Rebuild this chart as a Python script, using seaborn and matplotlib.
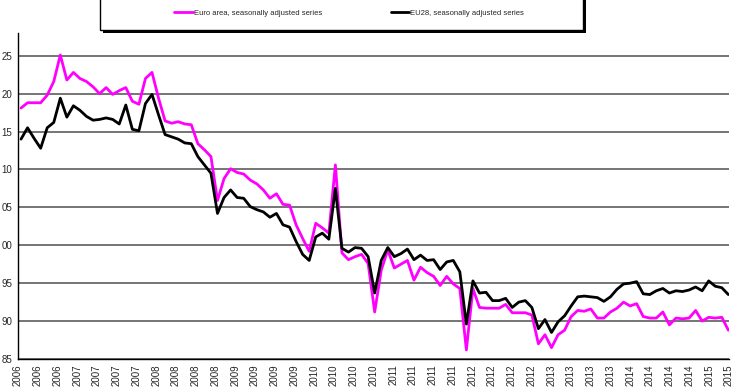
import numpy as np
import pandas as pd
import matplotlib
matplotlib.use("Agg")
import matplotlib.pyplot as plt
import seaborn as sns
from matplotlib.patches import Rectangle

# monthly index values
euro_area = [
    118.1, 118.8, 118.8, 118.8, 119.8, 121.6, 125.1, 121.8, 122.8, 122.0,
    121.6, 120.9, 120.0, 120.8, 119.9, 120.4, 120.8, 119.0, 118.6, 122.0,
    122.8, 119.4, 116.4, 116.1, 116.3, 116.0, 115.9, 113.4, 112.6, 111.7,
    105.9, 108.8, 110.1, 109.6, 109.4, 108.6, 108.1, 107.3, 106.2, 106.8,
    105.4, 105.3, 102.7, 100.9, 99.2, 102.9, 102.3, 101.6, 110.6, 99.0,
    98.1, 98.5, 98.8, 97.6, 91.2, 96.7, 99.4, 97.0, 97.5, 98.0,
    95.4, 97.1, 96.4, 95.9, 94.7, 95.9, 94.9, 94.3, 86.2, 94.3,
    91.8, 91.7, 91.7, 91.7, 92.2, 91.1, 91.1, 91.1, 90.8, 87.0,
    88.2, 86.5, 88.2, 88.8, 90.6, 91.4, 91.3, 91.6, 90.4, 90.4,
    91.2, 91.7, 92.5, 92.0, 92.3, 90.6, 90.4, 90.4, 91.2, 89.5,
    90.4, 90.3, 90.4, 91.4, 90.0, 90.5, 90.4, 90.5, 88.8,
]
eu28 = [
    114.0, 115.5, 114.1, 112.8, 115.5, 116.2, 119.4, 116.9, 118.4, 117.8,
    117.0, 116.5, 116.6, 116.8, 116.6, 116.0, 118.5, 115.3, 115.1, 118.7,
    119.9, 117.2, 114.6, 114.3, 114.0, 113.5, 113.4, 111.7, 110.6, 109.5,
    104.2, 106.3, 107.3, 106.3, 106.2, 105.1, 104.7, 104.4, 103.7, 104.2,
    102.7, 102.4, 100.5, 98.8, 98.0, 101.1, 101.6, 100.8, 107.5, 99.6,
    99.1, 99.7, 99.6, 98.5, 93.7, 98.0, 99.7, 98.5, 98.9, 99.5,
    98.1, 98.7, 98.0, 98.1, 96.8, 97.8, 98.0, 96.5, 89.6, 95.3,
    93.7, 93.8, 92.7, 92.7, 93.0, 91.8, 92.5, 92.7, 91.8, 89.0,
    90.2, 88.5, 89.9, 90.7, 92.0, 93.2, 93.3, 93.2, 93.1, 92.6,
    93.2, 94.2, 94.9, 95.0, 95.2, 93.6, 93.5, 94.0, 94.3, 93.7,
    94.0, 93.9, 94.1, 94.5, 94.0, 95.3, 94.6, 94.4, 93.5,
]

x_labels = (["2006"] * 3 + ["2007"] * 4 + ["2008"] * 4 + ["2009"] * 4
            + ["2010"] * 4 + ["2011"] * 4 + ["2012"] * 4 + ["2013"] * 4
            + ["2014"] * 4 + ["2015"] * 2)
y_ticks = [85, 90, 95, 100, 105, 110, 115, 120, 125]
y_labels = ["85", "90", "95", "00", "05", "10", "15", "20", "25"]

series_names = ["Euro area, seasonally adjusted series",
                "EU28, seasonally adjusted series"]

sns.set_style("white")
plt.rcParams["font.family"] = ["Liberation Sans", "DejaVu Sans"]

month = np.arange(len(euro_area))
df = pd.DataFrame({"month": np.concatenate([month, month]),
                   "value": euro_area + eu28,
                   "series": [series_names[0]] * len(month) + [series_names[1]] * len(month)})

fig = plt.figure(figsize=(7.4, 3.89), dpi=100)
ax = fig.add_axes([18 / 740, 1 - 359 / 389, 711 / 740, 326 / 389])

sns.lineplot(data=df, x="month", y="value", hue="series",
             palette=["#ff00ff", "#000000"], linewidth=2.0, ax=ax, legend=False)

ax.set_xlim(-0.46, 108.1)
ax.set_ylim(85, 128)
ax.set_xticks(np.linspace(-0.46, 108.1, len(x_labels)))
ax.set_xticklabels(x_labels, rotation=90, fontsize=7)
ax.set_yticks(y_ticks)
ax.set_yticklabels(y_labels, fontsize=7)
ax.set_xlabel("")
ax.set_ylabel("")

ax.yaxis.grid(True, color="#505050", linewidth=1.1)
ax.xaxis.grid(False)
ax.set_axisbelow(True)
for side in ["top", "right"]:
    ax.spines[side].set_visible(False)
for side in ["left", "bottom"]:
    ax.spines[side].set_color("black")
    ax.spines[side].set_linewidth(1.0)
ax.tick_params(axis="both", direction="out", length=3, width=0.8, color="black", pad=1)

# legend box at the top, cut by the figure edge, with a drop shadow
shadow = Rectangle((103 / 740, 1 - 33 / 389), 483 / 740, 0.2, transform=fig.transFigure,
                   facecolor="black", edgecolor="none", zorder=1)
box = Rectangle((100 / 740, 1 - 30 / 389), 483 / 740, 0.2, transform=fig.transFigure,
                facecolor="white", edgecolor="black", linewidth=1.0, zorder=2)
fig.patches.extend([shadow, box])

handles = [plt.Line2D([], [], color="#ff00ff", lw=2.0),
           plt.Line2D([], [], color="black", lw=2.0)]
leg = fig.legend(handles, series_names, loc="center", bbox_to_anchor=(349 / 740, 1 - 13 / 389),
                 ncol=2, frameon=False, fontsize=5.5, handlelength=2.4, handletextpad=0.1,
                 columnspacing=9.0, borderpad=0)
leg.set_zorder(3)

fig.savefig("out.png", dpi=100)
